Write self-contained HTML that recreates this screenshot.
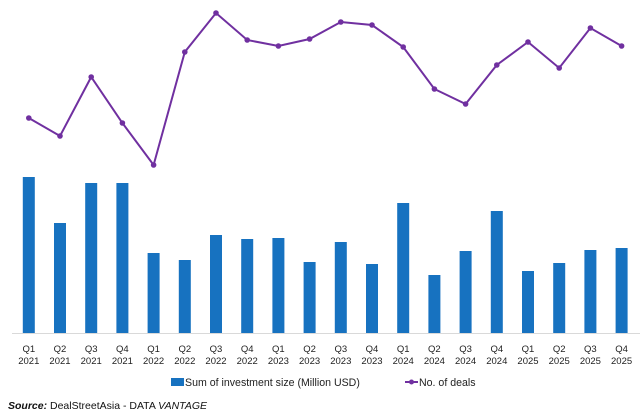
<!DOCTYPE html>
<html><head><style>
body{margin:0;background:#fff;}
svg{display:block;font-family:"Liberation Sans",sans-serif;}
</style></head><body>
<svg width="640" height="419" viewBox="0 0 640 419">
<line x1="12" y1="333.5" x2="640" y2="333.5" stroke="#d9d9d9" stroke-width="1"/>
<g fill="#1772c0" id="bars"></g>
<polyline id="ln" fill="none" stroke="#7030a0" stroke-width="2"/>
<g id="mk" fill="#7030a0"></g>
<g id="lb" font-size="9.5" fill="#222" text-anchor="middle"></g>
<rect x="171" y="378" width="13" height="8" fill="#1772c0"/>
<text x="185" y="386" font-size="10.6" fill="#222">Sum of investment size (Million USD)</text>
<line x1="405" y1="382" x2="418" y2="382" stroke="#7030a0" stroke-width="2"/>
<circle cx="411.5" cy="382" r="2.5" fill="#7030a0"/>
<text x="419" y="386" font-size="10.6" fill="#222">No. of deals</text>
<text x="8" y="409" font-size="10.5" fill="#111"><tspan font-style="italic" font-weight="bold">Source:</tspan> DealStreetAsia -  DATA <tspan font-style="italic">VANTAGE</tspan></text>
</svg>
<script>
var tops=[177,223,183,183,253,260,235,239,238,262,242,264,203,275,251,211,271,263,250,248];
var ys=[118,136,77,123,165,52,13,40,46,39,22,25,47,89,104,65,42,68,28,46];
var ns="http://www.w3.org/2000/svg",pts=[];
for(var i=0;i<20;i++){
 var cx=28.8+i*31.2;
 var r=document.createElementNS(ns,"rect");
 r.setAttribute("x",cx-6);r.setAttribute("y",tops[i]);r.setAttribute("width",12);r.setAttribute("height",333-tops[i]);
 document.getElementById("bars").appendChild(r);
 pts.push(cx+","+ys[i]);
 var c=document.createElementNS(ns,"circle");
 c.setAttribute("cx",cx);c.setAttribute("cy",ys[i]);c.setAttribute("r",2.8);
 document.getElementById("mk").appendChild(c);
 var q="Q"+(i%4+1),y=2021+Math.floor(i/4);
 [[q,352],[y,364]].forEach(function(a){var t=document.createElementNS(ns,"text");t.setAttribute("x",cx);t.setAttribute("y",a[1]);t.textContent=a[0];document.getElementById("lb").appendChild(t);});
}
document.getElementById("ln").setAttribute("points",pts.join(" "));
</script>
</body></html>
